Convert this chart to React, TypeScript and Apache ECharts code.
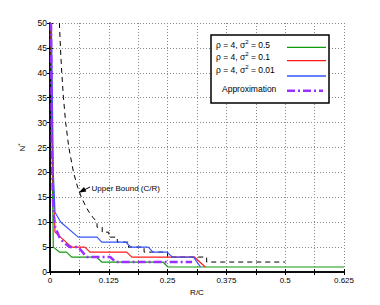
import { useEffect, useRef } from 'react';
import * as echarts from 'echarts';

// R/C (x) and N* (y) readings
const upperBound: number[][] = [
  [0.02, 50], [0.0222, 45], [0.025, 40], [0.0286, 35], [0.0333, 30], [0.04, 25],
  [0.05, 20], [0.0588, 17], [0.0667, 15], [0.0769, 13], [0.0833, 12], [0.0909, 11],
  [0.1, 10], [0.1, 9], [0.111, 9], [0.111, 8], [0.125, 8], [0.125, 7], [0.143, 7],
  [0.143, 6], [0.167, 6], [0.167, 5], [0.2, 5], [0.2, 4], [0.25, 4], [0.25, 3],
  [0.333, 3], [0.333, 2], [0.5, 2],
];
const green05: number[][] = [
  [0.002, 50], [0.005, 20], [0.007, 5], [0.02, 4], [0.035, 4], [0.046, 3], [0.099, 3],
  [0.11, 2], [0.24, 2], [0.251, 1], [0.625, 1],
];
const red01: number[][] = [
  [0.002, 50], [0.006, 20], [0.0106, 8], [0.046, 5], [0.074, 5], [0.085, 4], [0.163, 4],
  [0.174, 3], [0.307, 3], [0.33, 1],
];
const blue001: number[][] = [
  [0.003, 50], [0.007, 20], [0.0106, 12], [0.023, 10], [0.06, 7], [0.1, 7], [0.11, 6],
  [0.161, 6], [0.172, 5], [0.209, 5], [0.219, 4], [0.249, 4], [0.26, 3], [0.305, 3],
  [0.32, 1],
];
const approx: number[][] = [
  [0.002, 50], [0.004, 25], [0.006, 15], [0.008, 11.5], [0.011, 9], [0.02, 7],
  [0.028, 6], [0.042, 5], [0.06, 5], [0.078, 3], [0.128, 3], [0.14, 2], [0.302, 2],
];
const legendLabels = ['ρ = 4, σ', 'ρ = 4, σ', 'ρ = 4, σ'];
const legendValues = [' = 0.5', ' = 0.1', ' = 0.01'];

const FONT = '"Liberation Sans", Arial, Helvetica, sans-serif';
const GREEN = '#109a10';
const RED = '#ff1a1a';
const BLUE = '#3355ff';
const PURPLE = '#9b30ff';

export default function App() {
  const ref = useRef<HTMLDivElement>(null);
  useEffect(() => {
    if (!ref.current) return;
    const chart = echarts.init(ref.current, undefined, { renderer: 'svg' });
    const axisCommon = {
      axisLine: { show: true, lineStyle: { color: '#000', width: 1.5 } },
      axisTick: { show: true, inside: true, length: 3, lineStyle: { color: '#000', width: 1 } },
    };
    const richLabel = {
      a: { fontSize: 8.5, fontFamily: FONT, color: '#000', lineHeight: 12 },
      s: { fontSize: 6, fontFamily: FONT, color: '#000', verticalAlign: 'top' as const },
    };
    const legendTextY = [45, 57, 70];
    const legendLineY = [47.3, 60.7, 76];
    const legendColors = [GREEN, RED, BLUE];
    const graphic: any[] = [
      {
        type: 'rect', z: 100,
        shape: { x: 211, y: 35, width: 118, height: 68 },
        style: { fill: '#fff', stroke: '#000', lineWidth: 1.5 },
      },
    ];
    legendLabels.forEach((lab, i) => {
      graphic.push({
        type: 'text', z: 101, x: 216, y: legendTextY[i],
        style: {
          text: `{a|${lab}}{s|2}{a|${legendValues[i]}}`,
          rich: richLabel, verticalAlign: 'middle', align: 'left',
        },
      });
      graphic.push({
        type: 'line', z: 101,
        shape: { x1: 287, y1: legendLineY[i], x2: 326, y2: legendLineY[i] },
        style: { stroke: legendColors[i], lineWidth: 1.3 },
      });
    });
    graphic.push({
      type: 'text', z: 101, x: 222, y: 89,
      style: { text: 'Approximation', font: `8.5px ${FONT}`, fill: '#000', verticalAlign: 'middle' },
    });
    graphic.push({
      type: 'line', z: 101,
      shape: { x1: 287, y1: 90.7, x2: 323, y2: 90.7 },
      style: { stroke: PURPLE, lineWidth: 2.5, lineDash: [8, 3, 2, 3] },
    });
    graphic.push({
      type: 'text', z: 101, x: 91.5, y: 188,
      style: { text: 'Upper Bound (C/R)', font: `8px ${FONT}`, fill: '#000', verticalAlign: 'middle' },
    });
    graphic.push({
      type: 'line', z: 101,
      shape: { x1: 90, y1: 187, x2: 84, y2: 190 },
      style: { stroke: '#000', lineWidth: 1 },
    });
    graphic.push({
      type: 'polygon', z: 101,
      shape: { points: [[78.5, 192.8], [86.4, 191.4], [84, 187]] },
      style: { fill: '#000' },
    });

    chart.setOption({
      animation: false,
      backgroundColor: '#fff',
      grid: { left: 50, right: 36, top: 23, bottom: 33 },
      xAxis: [
        {
          type: 'value', min: 0, max: 0.625, interval: 0.0625,
          ...axisCommon,
          axisLabel: {
            fontSize: 8, fontFamily: FONT, color: '#000', margin: 4,
            formatter: (v: number) => (Math.round(v / 0.0625) % 2 === 0 ? String(v) : ''),
          },
          splitLine: { show: true, lineStyle: { color: '#888', type: [1, 2], width: 1 } },
          name: 'R/C', nameLocation: 'middle', nameGap: 15,
          nameTextStyle: { fontSize: 8, fontFamily: FONT, color: '#000' },
        },
        {
          type: 'value', min: 0, max: 0.625, interval: 0.0625, position: 'top',
          ...axisCommon,
          axisLabel: { show: false }, splitLine: { show: false },
        },
      ],
      yAxis: [
        {
          type: 'value', min: 0, max: 50, interval: 5,
          ...axisCommon,
          axisLabel: { fontSize: 8.5, fontFamily: FONT, color: '#000', margin: 3 },
          splitLine: { show: true, lineStyle: { color: '#888', type: [1, 2], width: 1 } },
          name: '{a|N}{s|*}', nameLocation: 'middle', nameGap: 22, nameRotate: 90,
          nameTextStyle: {
            fontSize: 8, fontFamily: FONT, color: '#000',
            rich: {
              a: { fontSize: 8, fontFamily: FONT, color: '#000', lineHeight: 11 },
              s: { fontSize: 6, fontFamily: FONT, color: '#000', verticalAlign: 'top' },
            },
          },
        },
        {
          type: 'value', min: 0, max: 50, interval: 5, position: 'right',
          ...axisCommon,
          axisLabel: { show: false }, splitLine: { show: false },
        },
      ],
      series: [
        {
          type: 'line', name: 'Upper Bound (C/R)', data: upperBound, showSymbol: false,
          lineStyle: { color: '#000', width: 1, type: [5, 4] },
        },
        {
          type: 'line', name: 'ρ = 4, σ² = 0.5', data: green05, showSymbol: false,
          lineStyle: { color: GREEN, width: 1.2 },
        },
        {
          type: 'line', name: 'ρ = 4, σ² = 0.1', data: red01, showSymbol: false,
          lineStyle: { color: RED, width: 1.2 },
        },
        {
          type: 'line', name: 'ρ = 4, σ² = 0.01', data: blue001, showSymbol: false,
          lineStyle: { color: BLUE, width: 1.2 },
        },
        {
          type: 'line', name: 'Approximation', data: approx, showSymbol: false,
          lineStyle: { color: PURPLE, width: 2.5, type: [8, 3, 2, 3] },
        },
      ],
      graphic,
    });
    return () => chart.dispose();
  }, []);
  return (
    <div
      ref={ref}
      style={{ position: 'fixed', left: 0, top: 0, width: 380, height: 305 }}
    />
  );
}
